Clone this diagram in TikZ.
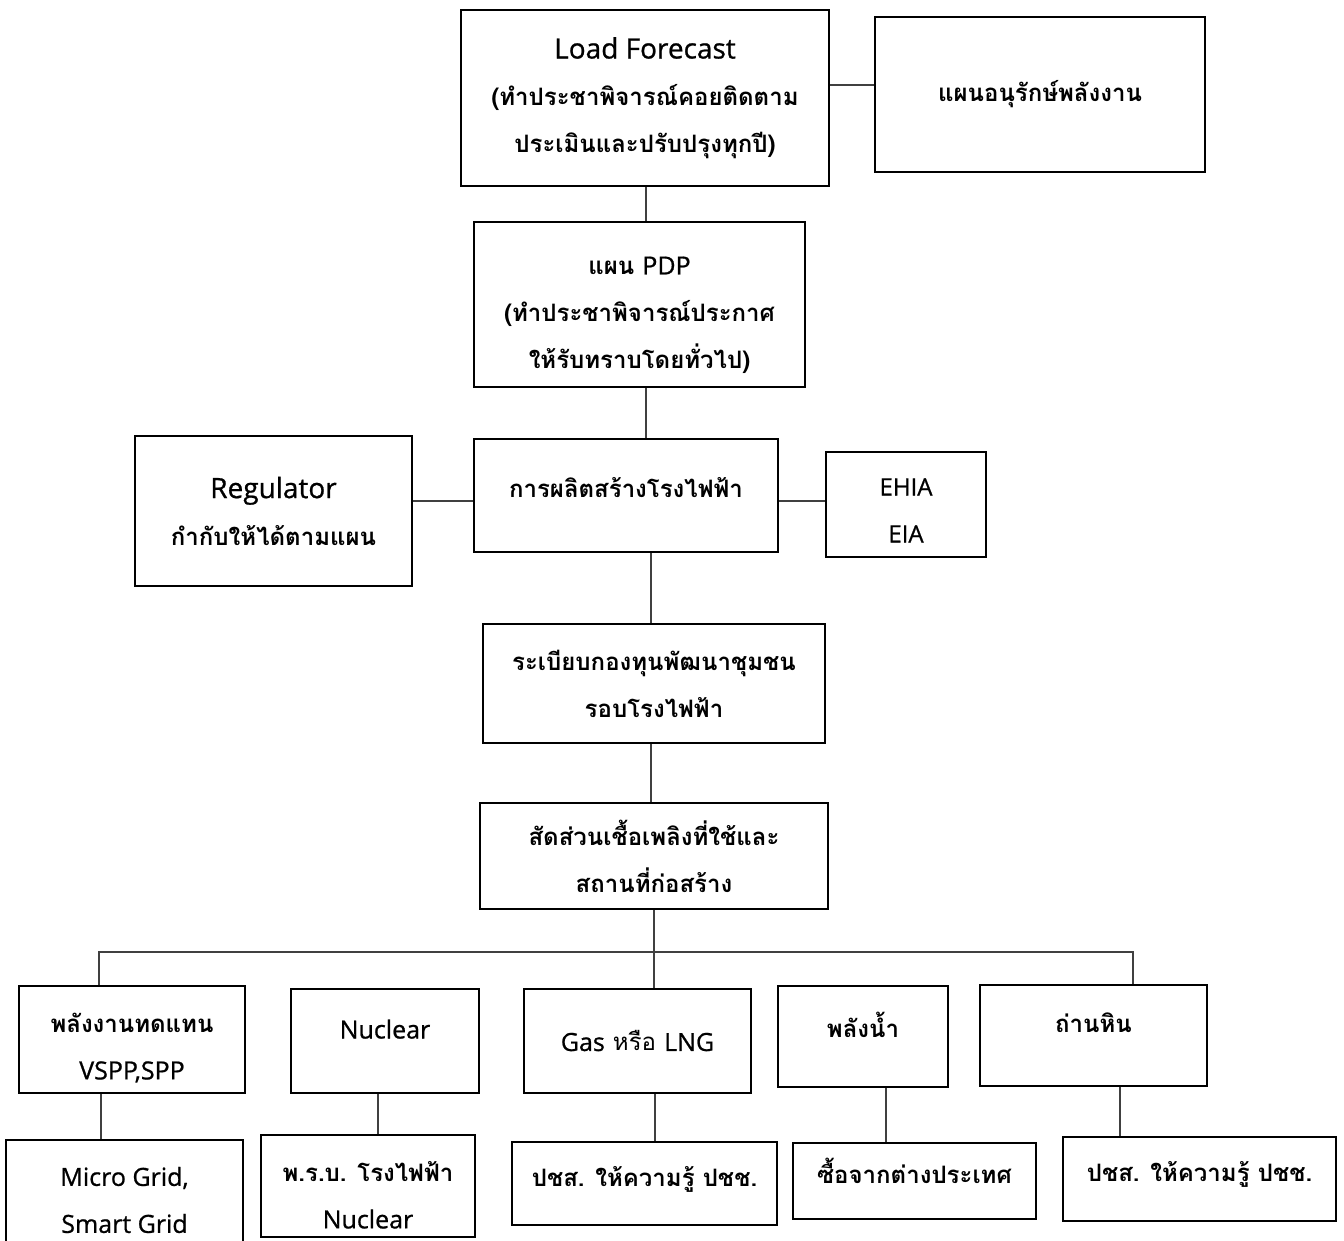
\documentclass[tikz,border=0pt]{standalone}
\usepackage{fontspec}
\setmainfont[Script=Thai]{Loma}
\newfontfamily\latinfont[FakeBold=0.8]{Open Sans}
\newcommand{\latn}[2][25]{{\latinfont\mdseries\fontsize{#1}{47}\selectfont #2}}
\newcommand{\topgap}[1]{\rule{0pt}{#1}}
\usepackage{tikz}
\usetikzlibrary{calc}

\tikzset{
  box/.style={draw=black, line width=2.4pt, align=center, inner sep=2pt,
    font=\fontsize{24}{47}\selectfont\bfseries},
  thin/.style={font=\fontsize{24}{47}\selectfont},
  link/.style={draw=black!75, line width=1.2pt}
}

\begin{document}
\begin{tikzpicture}[x=1pt,y=-1pt]
        \useasboundingbox (0,0) rectangle (1344,1241);
        % top
        \node[box, minimum width=368pt, minimum height=176pt] (load) at (645,98)
            {\latn[28]{Load Forecast}\\(ทำประชาพิจารณ์คอยติดตาม\\ประเมินและปรับปรุงทุกปี)};
        \node[box, minimum width=330pt, minimum height=155pt] (save) at (1040,94.5)
            {แผนอนุรักษ์พลังงาน};
        \node[box, minimum width=331pt, minimum height=165pt] (pdp) at (639.5,304.5)
            {\topgap{39pt}แผน \latn{PDP}\\(ทำประชาพิจารณ์ประกาศ\\ให้รับทราบโดยทั่วไป)};
        % middle
        \node[box, minimum width=304pt, minimum height=113pt, text depth=16pt] (build) at (626,495.5)
            {การผลิตสร้างโรงไฟฟ้า};
        \node[box, minimum width=277pt, minimum height=150pt] (reg) at (273.5,511)
            {\latn[28]{Regulator}\\กำกับให้ได้ตามแผน};
        \node[box, thin, minimum width=160pt, minimum height=105pt] (eia) at (906,504.5)
            {\topgap{29pt}\latn[24]{EHIA}\\\latn[24]{EIA}};
        \node[box, minimum width=342pt, minimum height=119pt] (fund) at (654,683.5)
            {ระเบียบกองทุนพัฒนาชุมชน\\รอบโรงไฟฟ้า};
        \node[box, minimum width=348pt, minimum height=106pt] (fuel) at (654,856)
            {สัดส่วนเชื้อเพลิงที่ใช้และ\\สถานที่ก่อสร้าง};
        % fuel types
        \node[box, minimum width=226pt, minimum height=107pt] (ren) at (132,1039.5)
            {\topgap{36pt}พลังงานทดแทน\\\latn{VSPP,SPP}};
        \node[box, thin, minimum width=188pt, minimum height=104pt, text depth=24pt] (nuc) at (385,1041)
            {\latn{Nuclear}};
        \node[box, thin, minimum width=227pt, minimum height=104pt] (gas) at (637.5,1041)
            {\latn{Gas} หรือ \latn{LNG}};
        \node[box, minimum width=170pt, minimum height=101pt, text depth=24pt] (hydro) at (863,1036.5)
            {พลังน้ำ};
        \node[box, minimum width=227pt, minimum height=101pt, text depth=26pt] (coal) at (1093.5,1035.5)
            {ถ่านหิน};
        % bottom row
        \node[box, minimum width=237pt, minimum height=120pt] (micro) at (124.5,1200)
            {\latn{Micro Grid,}\\\latn{Smart Grid}};
        \node[box, minimum width=214pt, minimum height=102pt] (prb) at (368,1186)
            {\topgap{38pt}พ.ร.บ. โรงไฟฟ้า\\\latn{Nuclear}};
        \node[box, minimum width=265pt, minimum height=83pt, text depth=14pt] (info1) at (644.5,1183.5)
            {ปชส. ให้ความรู้ ปชช.};
        \node[box, minimum width=243pt, minimum height=76pt, text depth=20pt] (buy) at (914.5,1181)
            {ซื้อจากต่างประเทศ};
        \node[box, minimum width=273pt, minimum height=84pt, text depth=16pt] (info2) at (1199.5,1179)
            {ปชส. ให้ความรู้ ปชช.};

        % connectors
        \coordinate (r1) at (0,85);
        \coordinate (r2) at (0,501);
        \coordinate (c1) at (646,0);
        \coordinate (c2) at (651,0);
        \draw[link] (load.east |- r1) -- (save.west |- r1);
        \draw[link] (load.south -| c1) -- (pdp.north -| c1);
        \draw[link] (pdp.south -| c1) -- (build.north -| c1);
        \draw[link] (reg.east |- r2) -- (build.west |- r2);
        \draw[link] (build.east |- r2) -- (eia.west |- r2);
        \draw[link] (build.south -| c2) -- (fund.north -| c2);
        \draw[link] (fund.south -| c2) -- (fuel.north -| c2);
        \draw[link] (fuel.south) -- (fuel.south |- gas.north);
        \coordinate (busL) at (99,952);
        \coordinate (busR) at (1133,952);
        \draw[link] (ren.north -| busL) -- (busL) -- (busR) -- (coal.north -| busR);
        \foreach \a/\b/\x in {ren/micro/101, nuc/prb/378, gas/info1/655, hydro/buy/886, coal/info2/1120}
        {
            \coordinate (t) at (\x,0);
            \draw[link] (\a.south -| t) -- (\b.north -| t);
        }
    \end{tikzpicture}
\end{document}
